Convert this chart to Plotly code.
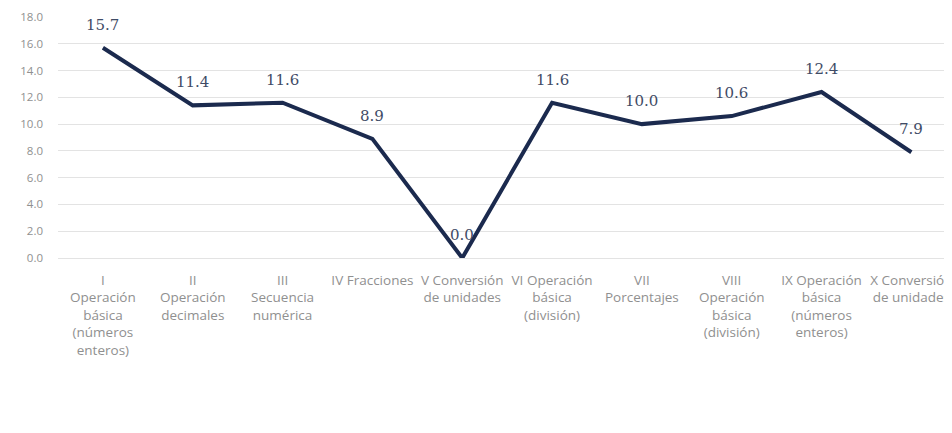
import plotly.graph_objects as go

categories = [
    "I<br>Operación<br>básica<br>(números<br>enteros)",
    "II<br>Operación<br>decimales",
    "III<br>Secuencia<br>numérica",
    "IV Fracciones",
    "V Conversión<br>de unidades",
    "VI Operación<br>básica<br>(división)",
    "VII<br>Porcentajes",
    "VIII<br>Operación<br>básica<br>(división)",
    "IX Operación<br>básica<br>(números<br>enteros)",
    "X Conversión<br>de unidades",
]
values = [15.7, 11.4, 11.6, 8.9, 0.0, 11.6, 10.0, 10.6, 12.4, 7.9]
y_ticks = [0, 2, 4, 6, 8, 10, 12, 14, 16, 18]

fig = go.Figure()
fig.add_trace(go.Scatter(
    x=categories,
    y=values,
    mode="lines",
    line=dict(color="#1B2A4E", width=4),
    cliponaxis=False,
    hoverinfo="skip",
))

for c, v in zip(categories, values):
    fig.add_annotation(
        x=c, y=v, text=f"{v:.1f}", showarrow=False, yshift=23,
        font=dict(family="DejaVu Serif, Liberation Serif, serif", size=15, color="#3F4B66"),
    )

fig.update_layout(
    width=944,
    height=425,
    margin=dict(l=50, r=0, t=9, b=175),
    paper_bgcolor="white",
    plot_bgcolor="white",
    showlegend=False,
    font=dict(family="Open Sans, Liberation Sans, sans-serif", size=12, color="#8C8C8C"),
)
fig.update_xaxes(
    type="category",
    range=[-0.5, 9.43],
    showgrid=False,
    showline=False,
    ticks="",
    tickangle=0,
    tickfont=dict(size=13.5, color="#909090"),
    ticklabelstandoff=12,
)
fig.update_yaxes(
    range=[0, 18],
    tickvals=y_ticks,
    tickformat=".1f",
    showgrid=True,
    gridcolor="#E3E3E3",
    gridwidth=1,
    zeroline=True,
    zerolinecolor="#E3E3E3",
    zerolinewidth=1,
    showline=False,
    ticks="",
    tickfont=dict(size=11.5, color="#909090"),
    ticklabelstandoff=14,
)

fig.write_html("out.html")
